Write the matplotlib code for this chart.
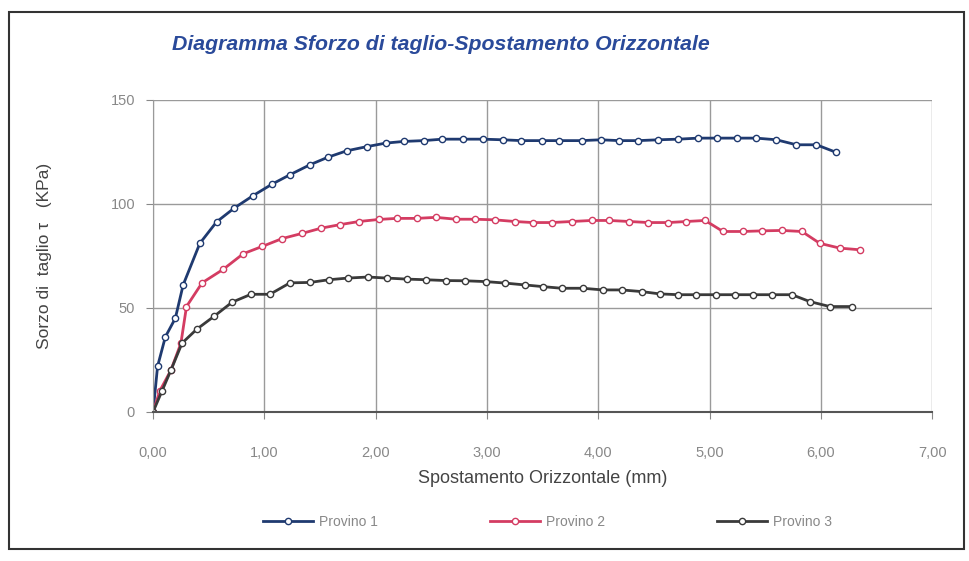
import matplotlib
matplotlib.use("Agg")
import matplotlib.pyplot as plt
from matplotlib.patches import Rectangle
from matplotlib.ticker import FuncFormatter

plt.rcParams['font.family'] = ['Liberation Sans', 'DejaVu Sans']

# Provino 1
x1 = [0, 0.04, 0.11, 0.20, 0.27, 0.42, 0.57, 0.73, 0.90, 1.07, 1.23, 1.41, 1.57, 1.74,
      1.92, 2.09, 2.25, 2.43, 2.60, 2.78, 2.96, 3.14, 3.31, 3.49, 3.65, 3.85, 4.02, 4.19,
      4.36, 4.54, 4.72, 4.90, 5.07, 5.25, 5.42, 5.60, 5.78, 5.96, 6.14]
y1 = [0, 21.8, 36.0, 45.0, 61.0, 81.0, 91.3, 98.0, 104.0, 109.5, 114.0, 118.8, 122.4, 125.5,
      127.5, 129.2, 130.0, 130.4, 131.1, 131.1, 131.1, 130.8, 130.4, 130.4, 130.4, 130.4, 130.8, 130.4,
      130.4, 130.8, 131.1, 131.6, 131.6, 131.6, 131.6, 130.8, 128.4, 128.4, 124.7]

# Provino 2
x2 = [0, 0.06, 0.16, 0.25, 0.30, 0.44, 0.63, 0.81, 0.98, 1.16, 1.34, 1.51, 1.68, 1.85,
      2.03, 2.19, 2.37, 2.54, 2.72, 2.89, 3.07, 3.25, 3.41, 3.58, 3.76, 3.94, 4.10, 4.28,
      4.45, 4.63, 4.79, 4.96, 5.12, 5.30, 5.47, 5.65, 5.83, 5.99, 6.17, 6.35]
y2 = [0, 10.0, 20.0, 33.0, 50.6, 62.0, 68.5, 76.0, 79.5, 83.3, 85.8, 88.3, 90.0, 91.5,
      92.5, 93.0, 93.0, 93.5, 92.6, 92.6, 92.3, 91.5, 91.0, 91.0, 91.5, 92.0, 92.0, 91.5,
      91.0, 91.0, 91.5, 92.0, 86.7, 86.7, 87.0, 87.2, 86.7, 81.0, 78.7, 77.9]

# Provino 3
x3 = [0, 0.08, 0.16, 0.26, 0.39, 0.55, 0.71, 0.88, 1.05, 1.23, 1.41, 1.58, 1.75, 1.93,
      2.10, 2.28, 2.45, 2.63, 2.80, 2.99, 3.16, 3.34, 3.50, 3.67, 3.86, 4.04, 4.21, 4.39,
      4.55, 4.72, 4.88, 5.06, 5.23, 5.39, 5.56, 5.74, 5.90, 6.08, 6.28]
y3 = [0, 10.0, 20.0, 33.0, 39.6, 46.0, 52.7, 56.5, 56.5, 62.0, 62.2, 63.5, 64.3, 64.8,
      64.3, 63.8, 63.5, 63.1, 63.0, 62.6, 61.9, 61.0, 60.2, 59.4, 59.4, 58.6, 58.6, 57.8,
      56.7, 56.3, 56.3, 56.3, 56.3, 56.3, 56.3, 56.3, 53.0, 50.6, 50.6]

labels = ["Provino 1", "Provino 2", "Provino 3"]
colors = ["#1f3a70", "#d43c62", "#3a3a3a"]

fig = plt.figure(figsize=(9.69, 5.61), dpi=100)
ax = fig.add_axes([0.158, 0.266, 0.804, 0.556])

for xs, ys, lab, c in zip([x1, x2, x3], [y1, y2, y3], labels, colors):
    ax.plot(xs, ys, color=c, lw=2, marker="o", ms=4.5, mfc="white", mec=c, mew=1,
            label=lab)

ax.set_xlim(0, 7)
ax.set_ylim(0, 150)
ax.set_xticks(range(8))
ax.set_yticks([0, 50, 100, 150])
ax.xaxis.set_major_formatter(FuncFormatter(lambda v, p: f"{v:.2f}".replace(".", ",")))
ax.grid(True, color="#9a9a9a", lw=1)
ax.set_axisbelow(True)
for s in ["top", "right"]:
    ax.spines[s].set_visible(False)
ax.spines["left"].set_color("#9a9a9a")
ax.spines["bottom"].set_color("#555555")
ax.spines["bottom"].set_linewidth(1.5)
ax.tick_params(axis="both", colors="#888888", labelsize=10.5, length=5)
ax.tick_params(axis="y", pad=8)
ax.tick_params(axis="x", pad=20)

ax.set_xlabel("Spostamento Orizzontale (mm)", fontsize=13, color="#444444", labelpad=7)
ax.set_ylabel("Sorzo di  taglio τ   (KPa)", fontsize=12.5, color="#444444", labelpad=42)

fig.text(0.177, 0.92, "Diagramma Sforzo di taglio-Spostamento Orizzontale",
         fontsize=15.3, fontweight="bold", style="italic", color="#2a4a9a", va="center")

fig.legend(loc="center", bbox_to_anchor=(0.565, 0.07), ncol=3, frameon=False,
           fontsize=10, columnspacing=8.1, handlelength=3.6, handletextpad=0.4,
           labelcolor="#888888")

fig.patches.append(Rectangle((0.009, 0.022), 0.986, 0.956, transform=fig.transFigure,
                             fill=False, edgecolor="#333333", lw=1.5))

fig.savefig("out.png", dpi=100)
